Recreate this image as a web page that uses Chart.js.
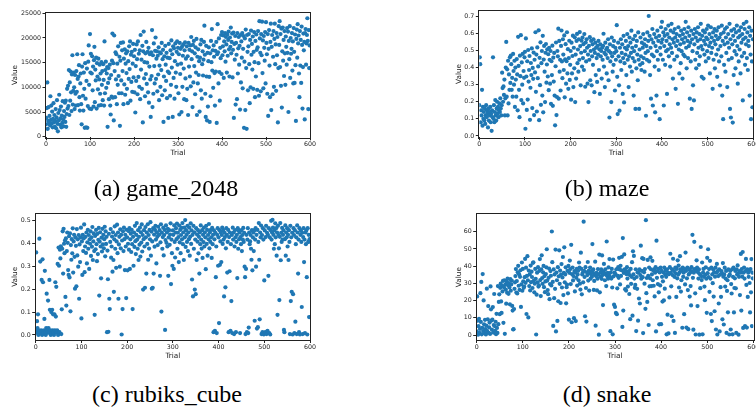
<!DOCTYPE html>
<html>
<head>
<meta charset="utf-8">
<script src="https://cdn.jsdelivr.net/npm/chart.js@4/dist/chart.umd.min.js"></script>
<style>
  html, body { margin: 0; padding: 0; background: #fff; }
  #fig { position: relative; width: 756px; height: 407px; overflow: hidden; }
  .panel { position: absolute; }
  .cap {
    position: absolute;
    font-family: "Liberation Serif", "Times New Roman", Times, "DejaVu Serif", serif;
    font-size: 24px;
    line-height: 24px;
    color: #000;
    white-space: nowrap;
    transform: translateX(-50%);
  }
</style>
</head>
<body>
<div id="fig">
  <div class="panel" style="left:0;top:0"><canvas id="c2048" width="322" height="165"></canvas></div>
  <div class="panel" style="left:440px;top:0"><canvas id="cmaze" width="340" height="165"></canvas></div>
  <div class="panel" style="left:0;top:200px"><canvas id="crubik" width="322" height="165"></canvas></div>
  <div class="panel" style="left:440px;top:200px"><canvas id="csnake" width="340" height="165"></canvas></div>
  <div class="cap" style="left:166px;top:176px">(a) game_2048</div>
  <div class="cap" style="left:607px;top:176px">(b) maze</div>
  <div class="cap" style="left:167px;top:382px">(c) rubiks_cube</div>
  <div class="cap" style="left:607px;top:382px">(d) snake</div>
</div>
<script>
// One value per trial (trial number = position in the array).

const GAME_2048 = [
  2500, 3800, 5800, 11000, 1600, 3200, 6000, 2800, 4200, 2300,
  8200, 3400, 6300, 2700, 5100, 1900, 3600, 6800, 2900, 4400,
  2000, 3200, 5600, 1700, 3900, 7400, 2600, 1100, 4800, 3300,
  8500, 5400, 2400, 3700, 6100, 1900, 4300, 2800, 7200, 3500,
  2100, 5200, 4000, 6900, 3000, 7300, 2000, 4600, 9700, 5700,
  10300, 6200, 13500, 4400, 11000, 7300, 13200, 9000, 5200, 12600,
  16500, 6500, 9300, 13000, 10000, 5600, 12500, 8700, 6300, 13300,
  9100, 16700, 11700, 6400, 12200, 14500, 8000, 5300, 10800, 12800,
  6600, 2500, 14200, 16700, 8300, 5300, 13000, 9700, 1800, 14900,
  7700, 1900, 11300, 13800, 1800, 6200, 15200, 18500, 10500, 5700,
  20800, 13000, 16800, 5600, 12800, 16300, 9400, 14200, 6100, 15500,
  18200, 7000, 13600, 11400, 16000, 5700, 14900, 12200, 9600, 15800,
  6300, 11600, 14600, 8700, 12800, 6400, 15100, 10500, 13300, 7400,
  14700, 11500, 6300, 19300, 8800, 13500, 15200, 9900, 12800, 14100,
  2000, 10900, 13900, 7600, 11800, 14600, 6300, 4500, 12500, 8100,
  15400, 20900, 7900, 14900, 3300, 20500, 13300, 8000, 17100, 11600,
  16700, 6600, 14800, 10500, 18300, 12300, 8800, 16200, 2200, 15400,
  19000, 11400, 8800, 17500, 13300, 19100, 6600, 15800, 10600, 17700,
  8500, 14800, 16900, 12900, 9700, 17300, 6800, 15300, 11700, 18300,
  13700, 19300, 7300, 16600, 11100, 17200, 9100, 14800, 18800, 12000,
  16300, 9000, 17600, 4900, 14300, 11300, 18700, 15700, 8600, 19300,
  12100, 16800, 10100, 17500, 7600, 20600, 13600, 15600, 9700, 18400,
  2900, 17300, 21300, 11800, 15100, 8200, 16900, 12700, 19200, 10700,
  15000, 17200, 9000, 18000, 6900, 14200, 16700, 11600, 4000, 17100,
  12300, 21600, 6000, 16500, 8700, 18900, 14300, 10800, 17400, 20100,
  11700, 15800, 17300, 9200, 16400, 12600, 18100, 7400, 14400, 17100,
  10100, 16900, 13500, 19000, 8400, 15700, 17600, 3000, 12200, 16300,
  9400, 18400, 14600, 11300, 17000, 7800, 16000, 13200, 3800, 18800,
  12900, 15900, 8300, 17500, 10500, 19500, 14000, 16700, 4000, 18300,
  11900, 17900, 7700, 15300, 18900, 13000, 10100, 17200, 19300, 14600,
  18000, 8800, 16700, 4500, 19000, 12700, 17800, 14800, 5000, 18200,
  10100, 16400, 18700, 13800, 7600, 17500, 19100, 11800, 15800, 7400,
  18300, 9700, 16300, 4400, 19000, 14200, 17600, 12200, 18500, 10200,
  20200, 15700, 17300, 6000, 18600, 11000, 19400, 14300, 16900, 8600,
  18100, 13000, 19800, 4400, 16200, 10800, 17700, 12500, 15300, 5100,
  16000, 18700, 9400, 19600, 7700, 14700, 17300, 12400, 15600, 19200,
  22500, 16600, 8700, 4000, 18400, 12200, 3300, 17000, 6100, 15300,
  18100, 12100, 3000, 16900, 8200, 19400, 15100, 21800, 13400, 17500,
  9900, 18500, 16200, 12900, 6300, 17400, 13200, 19200, 2800, 16700,
  22800, 17100, 10800, 19900, 13100, 7300, 18000, 15900, 20600, 12700,
  21200, 16500, 18300, 20500, 11900, 19300, 17300, 21000, 15200, 20200,
  18700, 13000, 20700, 16400, 19600, 21300, 17700, 12200, 20100, 18200,
  22100, 16900, 19200, 20900, 12000, 17600, 21100, 3800, 18800, 15600,
  20400, 6500, 19000, 16600, 7600, 21000, 12800, 17900, 20200, 14600,
  18400, 5500, 20600, 11000, 19300, 16000, 21000, 9800, 17800, 20400,
  1800, 15200, 19900, 5400, 21700, 13900, 1600, 20600, 17200, 9400,
  18300, 20800, 14700, 6800, 19600, 10000, 21500, 16600, 18800, 13600,
  20300, 9700, 17200, 21200, 15100, 8000, 19400, 12200, 20700, 17600,
  9500, 18100, 21400, 14900, 8300, 23400, 19900, 17000, 9200, 20800,
  16500, 23300, 12900, 19500, 9800, 20400, 18000, 15400, 21200, 10800,
  23200, 19000, 16700, 8700, 20800, 4200, 17800, 21600, 14400, 8000,
  19200, 22900, 5400, 18200, 20600, 8600, 16200, 21400, 10100, 19800,
  22900, 14700, 18700, 9300, 21000, 16500, 20200, 2900, 13900, 22400,
  18600, 23400, 14100, 20800, 10300, 21900, 5900, 17300, 22100, 15400,
  19600, 12300, 21400, 16900, 10500, 20300, 18200, 14600, 22000, 17000,
  21300, 5000, 19400, 15700, 22400, 11900, 20000, 16800, 17800, 21000,
  13400, 19300, 10800, 22000, 17200, 10900, 20700, 14500, 3200, 19800,
  21700, 16000, 22800, 18900, 20500, 12800, 8000, 21400, 14400, 19600,
  10900, 22300, 18600, 5700, 14100, 20900, 17500, 19200, 3500, 21000,
  21800, 14600, 18900, 20600, 24000, 19400, 5600, 21600, 13900, 18500
];

const MAZE = [
  0.18, 0.46, 0.42, 0.08, 0.15, 0.12, 0.27, 0.06, 0.17, 0.10,
  0.14, 0.09, 0.16, 0.07, 0.12, 0.18, 0.11, 0.15, 0.13, 0.05,
  0.16, 0.09, 0.14, 0.12, 0.17, 0.08, 0.13, 0.03, 0.15, 0.11,
  0.46, 0.10, 0.18, 0.08, 0.14, 0.21, 0.12, 0.09, 0.16, 0.20,
  0.13, 0.17, 0.11, 0.15, 0.19, 0.14, 0.22, 0.16, 0.12, 0.18,
  0.37, 0.28, 0.20, 0.29, 0.24, 0.33, 0.12, 0.22, 0.40, 0.55,
  0.23, 0.39, 0.12, 0.44, 0.19, 0.36, 0.27, 0.46, 0.31, 0.47,
  0.42, 0.27, 0.34, 0.23, 0.48, 0.38, 0.30, 0.44, 0.17, 0.40,
  0.33, 0.23, 0.45, 0.36, 0.15, 0.58, 0.41, 0.27, 0.11, 0.47,
  0.35, 0.59, 0.21, 0.43, 0.30, 0.48, 0.19, 0.38, 0.34, 0.46,
  0.492, 0.042, 0.571, 0.348, 0.152, 0.437, 0.213, 0.503, 0.318, 0.386,
  0.468, 0.094, 0.282, 0.427, 0.356, 0.512, 0.163, 0.398, 0.334, 0.488,
  0.122, 0.446, 0.372, 0.607, 0.258, 0.476, 0.143, 0.518, 0.338, 0.407,
  0.618, 0.092, 0.457, 0.297, 0.548, 0.182, 0.426, 0.497, 0.236, 0.586,
  0.138, 0.447, 0.527, 0.376, 0.198, 0.487, 0.538, 0.312, 0.418, 0.507,
  0.348, 0.478, 0.268, 0.516, 0.446, 0.306, 0.497, 0.188, 0.437, 0.356,
  0.528, 0.176, 0.458, 0.318, 0.486, 0.236, 0.062, 0.408, 0.547, 0.122,
  0.228, 0.497, 0.466, 0.628, 0.218, 0.556, 0.376, 0.446, 0.266, 0.527,
  0.617, 0.436, 0.338, 0.566, 0.476, 0.386, 0.588, 0.226, 0.448, 0.537,
  0.306, 0.437, 0.607, 0.366, 0.508, 0.276, 0.456, 0.557, 0.328, 0.416,
  0.497, 0.212, 0.546, 0.366, 0.468, 0.587, 0.286, 0.516, 0.396, 0.577,
  0.198, 0.476, 0.336, 0.556, 0.597, 0.426, 0.506, 0.376, 0.566, 0.446,
  0.608, 0.526, 0.296, 0.487, 0.557, 0.406, 0.576, 0.456, 0.537, 0.386,
  0.596, 0.496, 0.288, 0.547, 0.436, 0.566, 0.516, 0.306, 0.476, 0.198,
  0.527, 0.446, 0.578, 0.326, 0.497, 0.556, 0.296, 0.466, 0.536, 0.416,
  0.566, 0.506, 0.256, 0.486, 0.546, 0.356, 0.517, 0.456, 0.316, 0.527,
  0.476, 0.556, 0.386, 0.507, 0.246, 0.536, 0.466, 0.497, 0.336, 0.516,
  0.446, 0.527, 0.598, 0.406, 0.486, 0.286, 0.546, 0.476, 0.506, 0.366,
  0.516, 0.456, 0.566, 0.326, 0.496, 0.108, 0.536, 0.436, 0.486, 0.198,
  0.576, 0.466, 0.376, 0.526, 0.416, 0.556, 0.486, 0.266, 0.516, 0.446,
  0.496, 0.648, 0.346, 0.128, 0.546, 0.466, 0.296, 0.148, 0.516, 0.436,
  0.566, 0.386, 0.486, 0.536, 0.246, 0.456, 0.586, 0.196, 0.426, 0.516,
  0.476, 0.556, 0.356, 0.506, 0.596, 0.446, 0.526, 0.286, 0.466, 0.576,
  0.406, 0.546, 0.486, 0.616, 0.376, 0.516, 0.456, 0.566, 0.236, 0.496,
  0.436, 0.586, 0.158, 0.526, 0.396, 0.556, 0.476, 0.326, 0.606, 0.446,
  0.158, 0.506, 0.416, 0.576, 0.466, 0.386, 0.546, 0.426, 0.516, 0.596,
  0.456, 0.536, 0.376, 0.566, 0.486, 0.118, 0.526, 0.446, 0.606, 0.496,
  0.556, 0.702, 0.436, 0.586, 0.356, 0.516, 0.218, 0.566, 0.476, 0.626,
  0.178, 0.546, 0.466, 0.596, 0.406, 0.138, 0.526, 0.576, 0.236, 0.496,
  0.616, 0.446, 0.556, 0.386, 0.586, 0.098, 0.516, 0.476, 0.636, 0.546,
  0.668, 0.566, 0.446, 0.606, 0.178, 0.526, 0.586, 0.416, 0.626, 0.496,
  0.556, 0.246, 0.596, 0.506, 0.646, 0.466, 0.576, 0.536, 0.406, 0.616,
  0.516, 0.656, 0.486, 0.566, 0.336, 0.606, 0.546, 0.446, 0.626, 0.576,
  0.276, 0.526, 0.596, 0.466, 0.556, 0.188, 0.636, 0.506, 0.366, 0.586,
  0.536, 0.426, 0.616, 0.496, 0.566, 0.336, 0.596, 0.476, 0.546, 0.626,
  0.466, 0.576, 0.668, 0.516, 0.396, 0.606, 0.556, 0.456, 0.636, 0.526,
  0.586, 0.218, 0.546, 0.436, 0.616, 0.158, 0.566, 0.496, 0.296, 0.596,
  0.208, 0.536, 0.626, 0.446, 0.576, 0.396, 0.606, 0.486, 0.556, 0.636,
  0.516, 0.416, 0.596, 0.466, 0.566, 0.656, 0.526, 0.346, 0.586, 0.506,
  0.616, 0.336, 0.556, 0.476, 0.606, 0.536, 0.436, 0.576, 0.626, 0.496,
  0.566, 0.646, 0.456, 0.526, 0.596, 0.366, 0.546, 0.636, 0.486, 0.576,
  0.516, 0.276, 0.606, 0.446, 0.556, 0.626, 0.396, 0.536, 0.586, 0.476,
  0.616, 0.346, 0.566, 0.506, 0.636, 0.436, 0.576, 0.296, 0.526, 0.596,
  0.466, 0.646, 0.236, 0.556, 0.098, 0.606, 0.416, 0.536, 0.626, 0.376,
  0.576, 0.486, 0.636, 0.286, 0.546, 0.596, 0.446, 0.516, 0.656, 0.158,
  0.566, 0.108, 0.616, 0.456, 0.536, 0.078, 0.586, 0.356, 0.626, 0.496,
  0.556, 0.396, 0.606, 0.476, 0.646, 0.526, 0.306, 0.576, 0.436, 0.616,
  0.506, 0.586, 0.366, 0.636, 0.546, 0.466, 0.596, 0.208, 0.566, 0.656,
  0.486, 0.626, 0.416, 0.576, 0.536, 0.668, 0.456, 0.606, 0.386, 0.556,
  0.526, 0.636, 0.236, 0.586, 0.476, 0.098, 0.616, 0.436, 0.168, 0.566
];

const RUBIKS_CUBE = [
  0.02, 0.36, 0.01, 0.06, 0.03, 0.09, 0.00, 0.02, 0.42, 0.01,
  0.32, 0.01, 0.02, 0.24, 0.00, 0.33, 0.23, 0.01, 0.02, 0.07,
  0.28, 0.01, 0.00, 0.03, 0.18, 0.02, 0.01, 0.15, 0.03, 0.01,
  0.24, 0.11, 0.02, 0.00, 0.10, 0.01, 0.11, 0.02, 0.09, 0.01,
  0.00, 0.09, 0.02, 0.23, 0.08, 0.21, 0.01, 0.02, 0.31, 0.00,
  0.381, 0.302, 0.012, 0.372, 0.334, 0.387, 0.004, 0.112, 0.376, 0.452,
  0.268, 0.463, 0.398, 0.357, 0.412, 0.166, 0.421, 0.128, 0.366, 0.447,
  0.402, 0.283, 0.262, 0.431, 0.251, 0.443, 0.103, 0.392, 0.328, 0.418,
  0.356, 0.465, 0.272, 0.408, 0.437, 0.341, 0.202, 0.426, 0.389, 0.212,
  0.462, 0.347, 0.417, 0.298, 0.436, 0.158, 0.395, 0.318, 0.426, 0.468,
  0.072, 0.408, 0.262, 0.437, 0.366, 0.421, 0.482, 0.274, 0.386, 0.428,
  0.358, 0.447, 0.312, 0.404, 0.459, 0.376, 0.436, 0.288, 0.417, 0.398,
  0.452, 0.345, 0.426, 0.385, 0.471, 0.327, 0.408, 0.443, 0.366, 0.088,
  0.432, 0.374, 0.458, 0.396, 0.322, 0.441, 0.353, 0.415, 0.467, 0.172,
  0.407, 0.448, 0.386, 0.247, 0.425, 0.364, 0.463, 0.395, 0.437, 0.378,
  0.418, 0.472, 0.343, 0.452, 0.397, 0.428, 0.012, 0.368, 0.243, 0.014,
  0.441, 0.158, 0.113, 0.406, 0.462, 0.337, 0.386, 0.429, 0.276, 0.448,
  0.327, 0.188, 0.417, 0.474, 0.376, 0.436, 0.293, 0.408, 0.481, 0.357,
  0.447, 0.158, 0.395, 0.428, 0.298, 0.461, 0.378, 0.437, 0.002, 0.412,
  0.113, 0.452, 0.366, 0.468, 0.418, 0.283, 0.437, 0.386, 0.161, 0.459,
  0.426, 0.282, 0.398, 0.453, 0.372, 0.466, 0.288, 0.417, 0.442, 0.362,
  0.458, 0.396, 0.113, 0.428, 0.302, 0.447, 0.384, 0.476, 0.409, 0.353,
  0.437, 0.488, 0.416, 0.376, 0.457, 0.327, 0.428, 0.394, 0.468, 0.342,
  0.448, 0.403, 0.482, 0.364, 0.436, 0.198, 0.418, 0.457, 0.386, 0.206,
  0.471, 0.426, 0.268, 0.447, 0.397, 0.483, 0.328, 0.436, 0.377, 0.458,
  0.417, 0.492, 0.346, 0.451, 0.202, 0.408, 0.206, 0.466, 0.268, 0.438,
  0.385, 0.458, 0.476, 0.416, 0.312, 0.447, 0.428, 0.392, 0.472, 0.437,
  0.438, 0.457, 0.258, 0.404, 0.483, 0.102, 0.446, 0.376, 0.427, 0.468,
  0.347, 0.436, 0.458, 0.022, 0.414, 0.478, 0.402, 0.447, 0.386, 0.463,
  0.258, 0.426, 0.457, 0.393, 0.438, 0.487, 0.222, 0.416, 0.357, 0.302,
  0.456, 0.437, 0.288, 0.478, 0.406, 0.338, 0.447, 0.466, 0.418, 0.486,
  0.376, 0.446, 0.427, 0.318, 0.477, 0.404, 0.458, 0.357, 0.436, 0.467,
  0.417, 0.488, 0.396, 0.448, 0.327, 0.468, 0.426, 0.501, 0.384, 0.457,
  0.437, 0.406, 0.476, 0.366, 0.447, 0.418, 0.468, 0.346, 0.428, 0.487,
  0.397, 0.456, 0.242, 0.437, 0.168, 0.476, 0.376, 0.448, 0.198, 0.416,
  0.178, 0.466, 0.327, 0.438, 0.407, 0.457, 0.356, 0.428, 0.268, 0.447,
  0.396, 0.478, 0.416, 0.377, 0.457, 0.336, 0.437, 0.405, 0.468, 0.386,
  0.447, 0.426, 0.287, 0.476, 0.397, 0.458, 0.346, 0.436, 0.417, 0.484,
  0.378, 0.447, 0.406, 0.458, 0.426, 0.336, 0.467, 0.396, 0.437, 0.012,
  0.456, 0.417, 0.018, 0.446, 0.252, 0.386, 0.008, 0.437, 0.466, 0.302,
  0.426, 0.052, 0.457, 0.306, 0.408, 0.447, 0.318, 0.436, 0.468, 0.397,
  0.457, 0.416, 0.168, 0.446, 0.427, 0.208, 0.378, 0.466, 0.437, 0.272,
  0.406, 0.458, 0.012, 0.427, 0.278, 0.447, 0.018, 0.396, 0.148, 0.436,
  0.008, 0.468, 0.416, 0.447, 0.004, 0.386, 0.457, 0.426, 0.012, 0.406,
  0.437, 0.248, 0.466, 0.376, 0.456, 0.418, 0.447, 0.008, 0.427, 0.396,
  0.457, 0.366, 0.436, 0.416, 0.467, 0.406, 0.446, 0.298, 0.252, 0.004,
  0.288, 0.437, 0.012, 0.416, 0.466, 0.008, 0.032, 0.447, 0.396, 0.408,
  0.436, 0.376, 0.328, 0.457, 0.282, 0.426, 0.447, 0.366, 0.456, 0.062,
  0.416, 0.466, 0.298, 0.437, 0.028, 0.458, 0.034, 0.406, 0.488, 0.328,
  0.068, 0.447, 0.426, 0.477, 0.004, 0.436, 0.012, 0.466, 0.416, 0.002,
  0.238, 0.456, 0.012, 0.427, 0.476, 0.004, 0.446, 0.018, 0.437, 0.258,
  0.466, 0.008, 0.426, 0.002, 0.457, 0.498, 0.416, 0.447, 0.502, 0.468,
  0.437, 0.376, 0.456, 0.396, 0.487, 0.426, 0.466, 0.346, 0.447, 0.088,
  0.476, 0.436, 0.378, 0.152, 0.428, 0.488, 0.326, 0.446, 0.406, 0.467,
  0.416, 0.437, 0.456, 0.022, 0.012, 0.418, 0.478, 0.346, 0.447, 0.426,
  0.466, 0.386, 0.437, 0.327, 0.457, 0.406, 0.004, 0.476, 0.148, 0.426,
  0.188, 0.446, 0.002, 0.178, 0.466, 0.436, 0.008, 0.456, 0.058, 0.396,
  0.426, 0.004, 0.478, 0.447, 0.268, 0.416, 0.012, 0.466, 0.002, 0.437,
  0.456, 0.406, 0.122, 0.446, 0.004, 0.427, 0.466, 0.318, 0.416, 0.008,
  0.447, 0.396, 0.456, 0.252, 0.002, 0.466, 0.406, 0.437, 0.078, 0.418
];

const SNAKE = [
  2.1, 22.4, 8.3, 0.2, 5.1, 9.4, 1.2, 3.5, 24.3, 7.6,
  30.8, 0.4, 4.2, 35.4, 2.3, 20.1, 6.2, 1.1, 8.8, 3.4,
  0.3, 5.4, 26.9, 2.2, 9.1, 16.8, 1.3, 4.4, 7.2, 0.6,
  28.2, 14.9, 8.4, 3.1, 8.9, 16.2, 1.4, 5.8, 23.8, 5.2,
  2.4, 7.7, 0.5, 12.3, 4.1, 1.2, 28.4, 6.3, 19.2, 23.6,
  12.1, 27.4, 29.8, 19.5, 12.8, 28.6, 25.3, 31.4, 7.1, 27.8,
  31.8, 0.7, 29.3, 26.4, 18.2, 31.1, 24.6, 32.7, 28.9, 23.9,
  30.2, 27.6, 17.8, 32.4, 25.7, 29.4, 31.6, 16.9, 14.2, 3.2,
  3.4, 15.1, 26.8, 30.6, 34.2, 38.3, 24.7, 31.3, 24.1, 36.4,
  40.2, 28.6, 35.3, 26.2, 33.8, 37.6, 16.3, 29.4, 42.1, 25.7,
  38.4, 31.2, 27.4, 28.1, 33.6, 44.2, 30.3, 39.1, 12.2, 34.3,
  45.8, 31.8, 10.2, 37.4, 28.4, 35.2, 25.9, 40.3, 30.7, 36.8,
  33.7, 27.3, 41.9, 42.2, 31.6, 24.8, 29.8, 38.4, 32.6, 0.3,
  23.4, 36.2, 30.6, 39.4, 28.1, 28.8, 37.3, 44.1, 31.9, 22.6,
  38.2, 46.3, 33.1, 29.7, 36.4, 40.1, 27.8, 34.2, 24.9, 31.1,
  35.4, 39.3, 49.8, 31.6, 26.1, 23.7, 33.2, 38.6, 20.8, 29.6,
  37.1, 34.4, 28.8, 60.1, 42.3, 30.8, 5.3, 38.1, 21.4, 35.2,
  26.8, 49.6, 2.1, 36.3, 31.8, 8.2, 39.4, 19.6, 34.1, 49.2,
  29.7, 37.4, 18.6, 35.1, 41.2, 27.6, 33.4, 45.3, 23.2, 36.1,
  50.9, 30.6, 35.2, 39.3, 18.4, 27.8, 29.3, 37.2, 24.2, 40.1,
  8.9, 36.1, 43.2, 38.3, 29.6, 52.4, 7.4, 35.3, 39.2, 31.7,
  34.2, 9.8, 37.1, 25.3, 36.4, 8.1, 33.2, 38.4, 28.7, 35.1,
  37.3, 31.8, 42.1, 39.2, 29.8, 26.4, 47.8, 38.4, 23.6, 35.2,
  36.1, 30.6, 65.8, 37.2, 33.7, 10.9, 39.4, 27.3, 7.8, 36.4,
  34.8, 42.4, 31.6, 37.3, 25.8, 36.1, 39.2, 32.7, 35.4, 37.1,
  33.9, 52.8, 36.3, 38.1, 26.2, 31.4, 35.1, 42.6, 5.4, 34.2,
  36.1, 25.9, 32.7, 38.3, 35.2, 0.2, 46.7, 24.8, 33.9, 36.4,
  38.1, 32.6, 46.2, 34.8, 17.4, 36.7, 41.3, 35.9, 31.8, 38.2,
  35.1, 28.4, 54.3, 34.2, 36.1, 32.7, 39.3, 35.4, 44.1, 33.8,
  2.2, 36.3, 32.8, 38.4, 27.6, 0.4, 43.8, 34.1, 17.6, 36.2,
  16.3, 35.4, 12.8, 38.2, 12.1, 27.1, 34.3, 39.4, 33.2, 44.8,
  38.1, 29.4, 40.2, 34.3, 37.6, 45.4, 4.7, 56.3, 14.2, 36.1,
  46.8, 38.2, 26.6, 37.1, 25.8, 35.3, 39.4, 32.8, 28.1, 36.2,
  37.1, 23.8, 34.8, 9.2, 38.4, 29.7, 33.8, 42.3, 11.2, 48.6,
  35.2, 45.9, 32.8, 27.4, 29.1, 38.2, 2.3, 33.7, 26.8, 36.4,
  8.3, 36.2, 21.2, 38.1, 18.3, 34.8, 51.9, 32.7, 37.3, 44.6,
  33.6, 1.1, 44.2, 36.4, 29.8, 38.3, 15.2, 66.7, 24.3, 33.1,
  19.2, 43.6, 34.3, 5.8, 39.2, 28.3, 32.9, 45.1, 38.2, 28.4,
  35.2, 43.1, 31.8, 37.4, 28.6, 38.1, 22.4, 36.2, 39.4, 2.1,
  54.8, 33.2, 37.1, 29.6, 38.4, 24.8, 6.2, 36.3, 28.8, 39.2,
  6.3, 37.2, 33.8, 19.4, 31.2, 36.3, 20.1, 39.1, 26.9, 35.2,
  37.4, 33.8, 0.4, 38.2, 11.8, 36.1, 0.9, 35.3, 21.8, 39.4,
  47.2, 36.1, 28.3, 10.9, 38.2, 34.8, 44.3, 8.2, 37.1, 33.8,
  1.2, 39.2, 35.8, 22.1, 38.4, 32.9, 43.4, 35.1, 40.3, 27.6,
  36.2, 45.8, 38.1, 25.2, 31.8, 37.3, 4.2, 39.1, 33.8, 36.2,
  12.1, 38.3, 29.4, 47.9, 37.2, 4.3, 32.9, 39.2, 26.1, 3.4,
  35.2, 38.1, 22.3, 36.2, 28.4, 17.2, 39.4, 37.1, 58.2, 33.2,
  3.1, 36.2, 54.1, 38.3, 24.2, 0.3, 37.2, 43.4, 39.1, 16.8,
  36.4, 32.8, 38.1, 0.2, 35.3, 27.2, 51.1, 34.2, 31.9, 42.1,
  0.4, 36.2, 38.4, 33.8, 28.1, 20.2, 35.1, 39.3, 32.7, 12.9,
  44.8, 35.9, 49.8, 33.7, 38.3, 25.1, 43.1, 32.8, 12.2, 39.2,
  8.1, 35.2, 30.1, 38.1, 22.3, 36.4, 13.8, 33.9, 39.1, 3.2,
  36.2, 41.3, 0.3, 37.1, 34.2, 18.3, 38.2, 2.1, 35.1, 27.8,
  22.2, 37.1, 35.8, 9.1, 41.8, 33.9, 6.1, 35.2, 39.1, 28.1,
  32.8, 37.2, 1.2, 25.6, 31.8, 13.2, 38.1, 34.2, 0.3, 35.1,
  37.2, 3.2, 29.6, 24.1, 38.2, 0.4, 33.8, 39.2, 13.1, 27.3,
  32.9, 37.2, 27.1, 1.2, 38.1, 35.2, 40.4, 35.8, 0.2, 33.8,
  37.1, 23.2, 36.2, 47.1, 14.2, 38.3, 33.9, 48.2, 4.1, 36.2,
  39.2, 32.8, 5.2, 37.1, 44.2, 29.1, 4.3, 38.2, 22.1, 36.2,
  33.8, 37.1, 30.2, 13.1, 38.3, 24.8, 44.1, 5.2, 36.2, 32.9
];

const TRIAL_TICKS = [0, 100, 200, 300, 400, 500, 600];
const TICKS_2048 = [0, 5000, 10000, 15000, 20000, 25000];
const TICKS_MAZE = [0, 0.1, 0.2, 0.3, 0.4, 0.5, 0.6, 0.7];
const TICKS_RUBIK = [0, 0.1, 0.2, 0.3, 0.4, 0.5];
const TICKS_SNAKE = [0, 10, 20, 30, 40, 50, 60];

const BLUE = "#1f77b4";
const INK = "#222";
const TICK_FONT = { family: "DejaVu Sans", size: 6.3 };
const LABEL_FONT = { family: "DejaVu Sans", size: 7.3 };

// matplotlib-style box around the plot area
const frame = {
  id: "frame",
  afterDatasetsDraw(chart) {
    const a = chart.chartArea;
    const ctx = chart.ctx;
    ctx.save();
    ctx.strokeStyle = INK;
    ctx.lineWidth = 1;
    ctx.strokeRect(Math.round(a.left) - 0.5, Math.round(a.top) - 0.5,
      Math.round(a.right - a.left) + 1, Math.round(a.bottom - a.top) + 1);
    ctx.restore();
  },
};

function fixedTicks(list) {
  return (scale) => { scale.ticks = list.map((v) => ({ value: v })); };
}

function scatterPanel(canvasId, values, opts) {
  return new Chart(document.getElementById(canvasId), {
    type: "scatter",
    data: {
      datasets: [{
        data: values.map((v, i) => ({ x: i, y: v })),
        backgroundColor: BLUE,
        borderWidth: 0,
        pointRadius: 2.1,
        pointHoverRadius: 2.1,
        clip: 0,
      }],
    },
    options: {
      responsive: false,
      animation: false,
      devicePixelRatio: 1,
      events: [],
      layout: { padding: { top: opts.top, right: opts.right, left: 0, bottom: 0 } },
      plugins: { legend: { display: false }, tooltip: { enabled: false } },
      scales: {
        x: {
          type: "linear",
          min: 0,
          max: 600,
          afterBuildTicks: fixedTicks(TRIAL_TICKS),
          afterFit: (s) => { s.height = opts.xAxisH; },
          grid: { drawOnChartArea: false, drawTicks: true, tickLength: 3, color: INK },
          border: { display: false },
          ticks: { font: TICK_FONT, color: INK, padding: 0.5, autoSkip: false, maxRotation: 0,
                   callback: (v) => String(v) },
          title: { display: true, text: "Trial", font: LABEL_FONT, color: INK,
                   padding: { top: 0, bottom: opts.trialPad } },
        },
        y: {
          type: "linear",
          min: opts.yMin,
          max: opts.yMax,
          afterBuildTicks: fixedTicks(opts.yTicks),
          afterFit: (s) => { s.width = opts.yAxisW; },
          grid: { drawOnChartArea: false, drawTicks: true, tickLength: 3.5, color: INK },
          border: { display: false },
          ticks: { font: TICK_FONT, color: INK, padding: 1.5, autoSkip: false,
                   callback: opts.fmt },
          title: { display: true, text: "Value", font: LABEL_FONT, color: INK,
                   padding: { top: opts.valuePad, bottom: 0 } },
        },
      },
    },
    plugins: [frame],
  });
}

scatterPanel("c2048", GAME_2048, {
  top: 12.7, right: 12, xAxisH: 27.7, yAxisW: 46, trialPad: 7.9, valuePad: 10.6,
  yMin: -120, yMax: 25120, yTicks: TICKS_2048, fmt: (v) => String(v),
});
scatterPanel("cmaze", MAZE, {
  top: 10.7, right: 26.7, xAxisH: 27.7, yAxisW: 39.3, trialPad: 7.9, valuePad: 14.6,
  yMin: -0.008, yMax: 0.733, yTicks: TICKS_MAZE, fmt: (v) => v.toFixed(1),
});
scatterPanel("crubik", RUBIKS_CUBE, {
  top: 13.7, right: 12, xAxisH: 25, yAxisW: 35.7, trialPad: 4.6, valuePad: 10.6,
  yMin: -0.022, yMax: 0.529, yTicks: TICKS_RUBIK, fmt: (v) => v.toFixed(1),
});
scatterPanel("csnake", SNAKE, {
  top: 14.3, right: 26.7, xAxisH: 25, yAxisW: 36.7, trialPad: 4.6, valuePad: 14.6,
  yMin: -2.9, yMax: 70.1, yTicks: TICKS_SNAKE, fmt: (v) => String(v),
});
</script>
</body>
</html>
